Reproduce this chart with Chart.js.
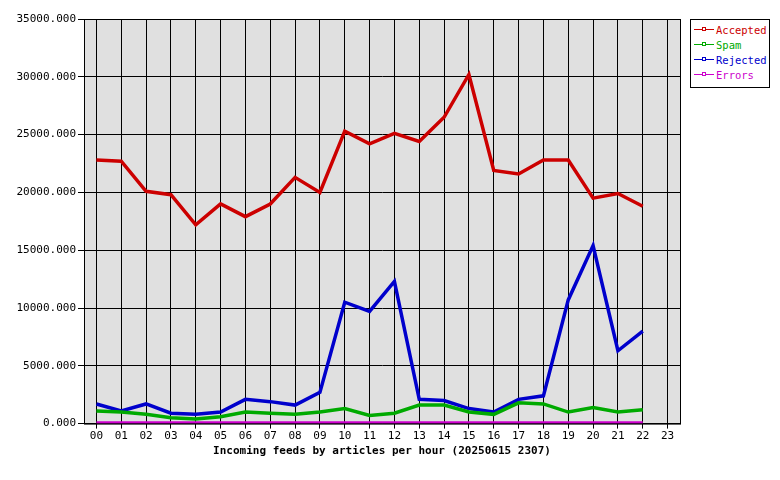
<!DOCTYPE html>
<html><head><meta charset="utf-8">
<script src="https://cdn.jsdelivr.net/npm/chart.js@4"></script>
<style>
body{margin:0;background:#fff;font-family:"DejaVu Sans Mono",monospace;}
#wrap{position:relative;width:780px;height:480px;}
#legend{position:absolute;left:690px;top:19px;width:78px;border:1px solid #000;font-size:10.5px;padding:3px 0 4px;background:#fff;}
#legend div{height:15px;line-height:15px;white-space:nowrap;}
#legend span.l{display:inline-block;width:20px;height:0;border-top:1px solid;margin:0 2px 3px 3px;vertical-align:middle;position:relative;}
#legend span.l i{position:absolute;left:8px;top:-3px;width:2px;height:2px;border:1px solid;background:#fff;}
</style></head>
<body><div id="wrap"><canvas id="feeds" width="780" height="480"></canvas>
<div id="legend"></div></div>
<script>
const hours = ["00","01","02","03","04","05","06","07","08","09","10","11","12","13","14","15","16","17","18","19","20","21","22","23"];
const accepted = [22800,22700,20100,19800,17200,19000,17900,19000,21300,20000,25300,24200,25100,24400,26500,30200,21900,21600,22800,22800,19500,19900,18800];
const spam = [1100,1000,800,500,400,600,1000,900,800,1000,1300,700,900,1600,1600,1000,800,1800,1700,1000,1400,1000,1200];
const rejected = [1700,1100,1700,900,800,1000,2100,1900,1600,2700,10500,9700,12300,2100,2000,1300,1000,2100,2400,10700,15400,6300,8000];
const errors = [50,50,50,50,50,50,50,50,50,50,50,50,50,50,50,50,50,50,50,50,50,50,50];

const series = [
  ["Accepted", accepted, "#cc0000"],
  ["Spam", spam, "#00aa00"],
  ["Rejected", rejected, "#0000cc"],
  ["Errors", errors, "#cc00cc"]
];

document.getElementById("legend").innerHTML = series.map(s =>
  `<div style="color:${s[2]}"><span class="l" style="border-top-color:${s[2]}"><i style="border-color:${s[2]}"></i></span>${s[0]}</div>`).join("");

const bgPlugin = {
  id: "bg",
  beforeDraw(chart) {
    const a = chart.chartArea, c = chart.ctx;
    c.save(); c.fillStyle = "#e0e0e0"; c.fillRect(a.left, a.top, a.right - a.left, a.bottom - a.top); c.restore();
  },
  afterDraw(chart) {
    const a = chart.chartArea, c = chart.ctx;
    c.save(); c.strokeStyle = "#000"; c.lineWidth = 1; c.strokeRect(a.left + 0.5, a.top + 0.5, a.right - a.left, a.bottom - a.top); c.restore();
  }
};

Chart.defaults.font.family = "DejaVu Sans Mono";
Chart.defaults.font.size = 11;
Chart.defaults.color = "#000";

new Chart(document.getElementById("feeds").getContext("2d"), {
  type: "line",
  data: {
    labels: hours,
    datasets: series.map(s => ({
      label: s[0], data: s[1], borderColor: s[2], backgroundColor: s[2],
      borderWidth: 3.5, pointRadius: 0, tension: 0
    }))
  },
  options: {
    responsive: false, animation: false,
    layout: {padding: {left: 0, right: 100, top: 19, bottom: 0}},
    plugins: {legend: {display: false}, tooltip: {enabled: false}},
    scales: {
      x: {
        offset: true,
        grid: {offset: false, color: "#000", drawTicks: true, tickLength: 5},
        border: {color: "#000"},
        ticks: {padding: 1, maxRotation: 0},
        title: {display: true, text: "Incoming feeds by articles per hour (20250615 2307)", font: {weight: "bold", size: 11}, padding: {top: 1, bottom: 22}}
      },
      y: {
        min: 0, max: 35000,
        afterFit(s) { s.width = 84; },
        grid: {color: "#000", tickLength: 6},
        border: {color: "#000"},
        ticks: {stepSize: 5000, callback: v => v.toFixed(3), padding: 2}
      }
    }
  },
  plugins: [bgPlugin]
});
</script></body></html>
